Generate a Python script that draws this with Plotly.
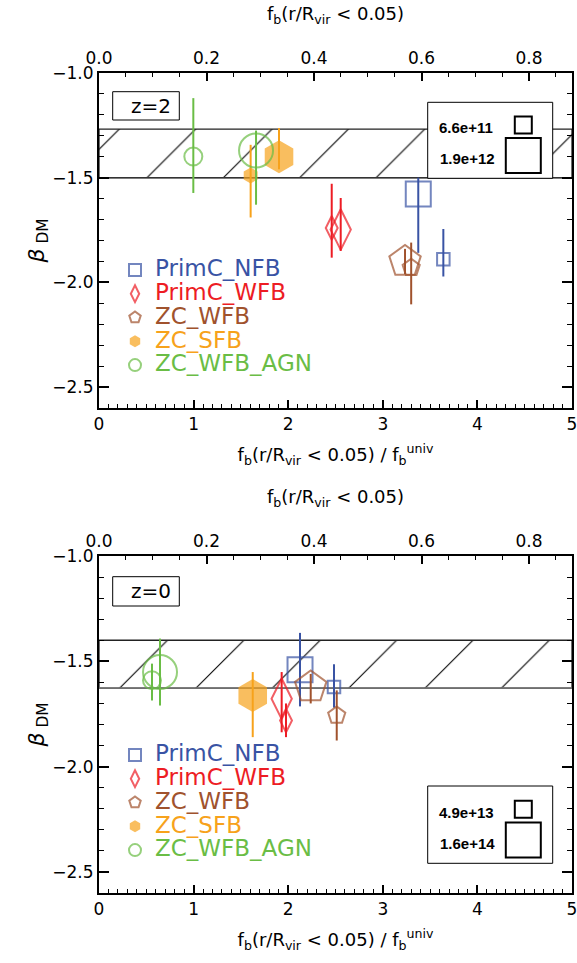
import plotly.graph_objects as go

# ---------------- data ----------------
# x = f_b(r/Rvir<0.05)/f_b^univ ; y = beta_DM ; hi/lo = error-bar ends
# index 0 = low-mass halo, index 1 = high-mass halo
SERIES = ["PrimC_NFB", "PrimC_WFB", "ZC_WFB", "ZC_SFB", "ZC_WFB_AGN"]

# z = 2
Z2_NFB_X = [3.64, 3.375];  Z2_NFB_Y = [-1.89, -1.578];  Z2_NFB_HI = [-1.745, -1.50];  Z2_NFB_LO = [-1.972, -1.859]
Z2_PWFB_X = [2.46, 2.555]; Z2_PWFB_Y = [-1.74, -1.748]; Z2_PWFB_HI = [-1.529, -1.597]; Z2_PWFB_LO = [-1.882, -1.85]
Z2_ZWFB_X = [3.30, 3.235]; Z2_ZWFB_Y = [-1.93, -1.90];  Z2_ZWFB_HI = [-1.81, -1.84];   Z2_ZWFB_LO = [-2.105, -1.96]
Z2_SFB_X = [1.603, 1.903]; Z2_SFB_Y = [-1.489, -1.40];  Z2_SFB_HI = [-1.343, -1.263];  Z2_SFB_LO = [-1.69, -1.46]
Z2_AGN_X = [0.997, 1.66];  Z2_AGN_Y = [-1.399, -1.37];  Z2_AGN_HI = [-1.12, -1.275];   Z2_AGN_LO = [-1.573, -1.629]
Z2_MASS = [0, 1]
Z2_SFB_MASS = [0, 1]
Z2_BAND = [-1.50, -1.268]
Z2_MASS_LABELS = ["6.6e+11", "1.9e+12"]

# z = 0
Z0_NFB_X = [2.484, 2.125]; Z0_NFB_Y = [-1.622, -1.54];  Z0_NFB_HI = [-1.514, -1.365]; Z0_NFB_LO = [-1.72, -1.714]
Z0_PWFB_X = [1.977, 1.931]; Z0_PWFB_Y = [-1.781, -1.678]; Z0_PWFB_HI = [-1.70, -1.551]; Z0_PWFB_LO = [-1.86, -1.837]
Z0_ZWFB_X = [2.513, 2.238]; Z0_ZWFB_Y = [-1.757, -1.622]; Z0_ZWFB_HI = [-1.638, -1.56]; Z0_ZWFB_LO = [-1.876, -1.70]
Z0_SFB_X = [1.625];        Z0_SFB_Y = [-1.662];          Z0_SFB_HI = [-1.551];         Z0_SFB_LO = [-1.86]
Z0_AGN_X = [0.56, 0.645];  Z0_AGN_Y = [-1.59, -1.551];   Z0_AGN_HI = [-1.511, -1.392]; Z0_AGN_LO = [-1.686, -1.71]
Z0_MASS = [0, 1]
Z0_SFB_MASS = [1]
Z0_BAND = [-1.627, -1.40]
Z0_MASS_LABELS = ["4.9e+13", "1.6e+14"]

FB_RANGE = [0, 0.88]          # top axis: f_b itself
X_RANGE = [0, 5]
Y_RANGE = [-2.6, -1.0]

# ---------------- style ----------------
W, H = 577, 963
ML, MR, MT, MB = 99, 5, 73, 70
PW, PH = W - ML - MR, H - MT - MB

COLORS = {"PrimC_NFB": "#3953A4", "PrimC_WFB": "#ED1C24", "ZC_WFB": "#A0522D",
          "ZC_SFB": "#F7A21B", "ZC_WFB_AGN": "#6ABD45"}
SYMBOLS = {"PrimC_NFB": "square", "PrimC_WFB": "diamond-tall", "ZC_WFB": "pentagon",
           "ZC_SFB": "hexagon", "ZC_WFB_AGN": "circle"}
SIZES = {"PrimC_NFB": (12.5, 25), "PrimC_WFB": (17, 29), "ZC_WFB": (18, 33),
         "ZC_SFB": (16, 33), "ZC_WFB_AGN": (18, 34)}
FONT = "DejaVu Sans"


def px(x):
    return (x - ML) / PW


def py(y):
    return (H - MB - y) / PH


TOP_DOM = [py(408), 1.0]
BOT_DOM = [0.0, py(556)]

fig = go.Figure()

panels = [
    dict(xa="x", xa2="x2", ya="y", legend="legend", band=Z2_BAND,
         data={"PrimC_NFB": (Z2_NFB_X, Z2_NFB_Y, Z2_NFB_HI, Z2_NFB_LO, Z2_MASS),
               "PrimC_WFB": (Z2_PWFB_X, Z2_PWFB_Y, Z2_PWFB_HI, Z2_PWFB_LO, Z2_MASS),
               "ZC_WFB": (Z2_ZWFB_X, Z2_ZWFB_Y, Z2_ZWFB_HI, Z2_ZWFB_LO, Z2_MASS),
               "ZC_SFB": (Z2_SFB_X, Z2_SFB_Y, Z2_SFB_HI, Z2_SFB_LO, Z2_SFB_MASS),
               "ZC_WFB_AGN": (Z2_AGN_X, Z2_AGN_Y, Z2_AGN_HI, Z2_AGN_LO, Z2_MASS)},
         band_low_color="#333333"),
    dict(xa="x3", xa2="x4", ya="y2", legend="legend2", band=Z0_BAND,
         data={"PrimC_NFB": (Z0_NFB_X, Z0_NFB_Y, Z0_NFB_HI, Z0_NFB_LO, Z0_MASS),
               "PrimC_WFB": (Z0_PWFB_X, Z0_PWFB_Y, Z0_PWFB_HI, Z0_PWFB_LO, Z0_MASS),
               "ZC_WFB": (Z0_ZWFB_X, Z0_ZWFB_Y, Z0_ZWFB_HI, Z0_ZWFB_LO, Z0_MASS),
               "ZC_SFB": (Z0_SFB_X, Z0_SFB_Y, Z0_SFB_HI, Z0_SFB_LO, Z0_SFB_MASS),
               "ZC_WFB_AGN": (Z0_AGN_X, Z0_AGN_Y, Z0_AGN_HI, Z0_AGN_LO, Z0_MASS)},
         band_low_color="#777777"),
]

for p in panels:
    lo, hi = p["band"]
    # invisible trace so the top (f_b) axis is drawn
    fig.add_trace(go.Scatter(x=FB_RANGE, y=[None, None], mode="markers",
                             xaxis=p["xa2"], yaxis=p["ya"], showlegend=False, hoverinfo="skip"))
    # hatched band
    fig.add_trace(go.Scatter(
        x=[X_RANGE[0], X_RANGE[1], X_RANGE[1], X_RANGE[0], X_RANGE[0]],
        y=[lo, lo, hi, hi, lo], mode="lines", fill="toself",
        fillcolor="rgba(0,0,0,0)",
        fillpattern=dict(shape="/", size=54, solidity=0.02, fgcolor="black",
                         fgopacity=1, fillmode="overlay"),
        line=dict(color="#222222", width=1.3),
        xaxis=p["xa"], yaxis=p["ya"], showlegend=False, hoverinfo="skip"))
    fig.add_trace(go.Scatter(
        x=X_RANGE, y=[lo, lo], mode="lines", line=dict(color=p["band_low_color"], width=1.5),
        xaxis=p["xa"], yaxis=p["ya"], showlegend=False, hoverinfo="skip"))
    for name in SERIES:
        xs, ys, his, los, mass = p["data"][name]
        col = COLORS[name]
        filled = name == "ZC_SFB"
        fig.add_trace(go.Scatter(
            x=xs, y=ys, mode="markers",
            name='<span style="font-size:23px;color:%s">%s</span>' % (col, name),
            legend=p["legend"],
            marker=dict(symbol=SYMBOLS[name], size=[SIZES[name][m] for m in mass],
                        color=col if filled else "rgba(0,0,0,0)",
                        line=dict(color=col, width=0 if filled else 2)),
            error_y=dict(type="data", symmetric=False,
                         array=[h - y for h, y in zip(his, ys)],
                         arrayminus=[y - l for l, y in zip(los, ys)],
                         color=col, thickness=2, width=0),
            xaxis=p["xa"], yaxis=p["ya"], hoverinfo="skip"))

tickfont = dict(family=FONT, size=17, color="black")
titlefont = dict(family=FONT, size=18, color="black")
XTITLE = "f<sub>b</sub>(r/R<sub>vir</sub> &lt; 0.05) / f<sub>b</sub><sup>univ</sup>"
XTITLE2 = "f<sub>b</sub>(r/R<sub>vir</sub> &lt; 0.05)"
YTITLE = "<i>β</i><sub> DM</sub>"


def xbottom(anchor):
    return dict(range=X_RANGE, dtick=1, tick0=0, ticks="inside", ticklen=8, tickwidth=1.5,
                minor=dict(dtick=0.1, ticks="inside", ticklen=4, tickwidth=1.2, tickcolor="black"),
                showline=True, linewidth=2, linecolor="black", mirror=False, tickcolor="black",
                showgrid=False, zeroline=False, anchor=anchor, tickfont=tickfont,
                ticklabeloverflow="allow",
                automargin=False, title=dict(text=XTITLE, font=titlefont, standoff=15))


def xtop(overlay, anchor):
    return dict(range=FB_RANGE, dtick=0.2, tick0=0, tickformat=".1f", side="top",
                overlaying=overlay, anchor=anchor, ticks="inside", ticklen=8, tickwidth=1.5,
                minor=dict(dtick=0.05, ticks="inside", ticklen=4, tickwidth=1.2, tickcolor="black"),
                showline=True, linewidth=2, linecolor="black", tickcolor="black",
                showgrid=False, zeroline=False, tickfont=tickfont, automargin=False,
                ticklabeloverflow="allow",
                title=dict(text=XTITLE2, font=titlefont, standoff=23))


def yax(domain, anchor):
    return dict(domain=domain, range=Y_RANGE, dtick=0.5, tick0=-1.0, tickformat=".1f",
                ticks="inside", ticklen=10, tickwidth=1.5, tickcolor="black",
                minor=dict(dtick=0.1, ticks="inside", ticklen=5, tickwidth=1.2, tickcolor="black"),
                showline=True, linewidth=2, linecolor="black", mirror="ticks",
                showgrid=False, zeroline=False, anchor=anchor, tickfont=tickfont, automargin=False,
                title=dict(text=YTITLE, font=dict(family=FONT, size=22, color="black"), standoff=2))


shapes, annos = [], []


def box(x0, y0, x1, y1, fill="rgba(0,0,0,0)", lw=1):
    shapes.append(dict(type="rect", xref="paper", yref="paper", x0=px(x0), x1=px(x1),
                       y0=py(y1), y1=py(y0), line=dict(color="black", width=lw),
                       fillcolor=fill, layer="above"))


def text(x, y, s, size, bold=False, fam=FONT):
    annos.append(dict(xref="paper", yref="paper", x=px(x), y=py(y), text="<b>%s</b>" % s if bold else s,
                      showarrow=False, xanchor="center", yanchor="middle",
                      font=dict(family=fam, size=size, color="black")))


for (ztxt, zy0, zy1, by0, by1, labels, sq_small_y, sq_big_y) in [
        ("z=2", 91.7, 120, 102.3, 178.3, Z2_MASS_LABELS, 125.0, 155.5),
        ("z=0", 576.7, 606, 786, 863.3, Z0_MASS_LABELS, 809.2, 840.0)]:
    box(112.7, zy0, 179.3, zy1)
    text(151, (zy0 + zy1) / 2, ztxt, 20)
    box(427.7, by0, 552.7, by1, fill="white")
    text(466, sq_small_y + 3, labels[0], 15, bold=True, fam="Liberation Sans")
    text(467, sq_big_y + 3, labels[1], 15, bold=True, fam="Liberation Sans")
    box(523.3 - 8.5, sq_small_y - 8.5, 523.3 + 8.5, sq_small_y + 8.5, lw=2)
    box(523.3 - 17.5, sq_big_y - 17.5, 523.3 + 17.5, sq_big_y + 17.5, lw=2)

legend_common = dict(font=dict(family=FONT, size=16, color="black"), bgcolor="rgba(0,0,0,0)",
                     itemsizing="constant", tracegroupgap=0, xanchor="left", yanchor="top",
                     borderwidth=0, itemclick=False, itemdoubleclick=False)

fig.update_layout(
    width=W, height=H, margin=dict(l=ML, r=MR, t=MT, b=MB, autoexpand=False),
    paper_bgcolor="white", plot_bgcolor="white", showlegend=True,
    xaxis=xbottom("y"), xaxis2=xtop("x", "y"),
    xaxis3=xbottom("y2"), xaxis4=xtop("x3", "y2"),
    yaxis=yax(TOP_DOM, "x"), yaxis2=yax(BOT_DOM, "x3"),
    legend=dict(x=px(115), y=py(253), **legend_common),
    legend2=dict(x=px(115), y=py(738), **legend_common),
    shapes=shapes, annotations=annos,
)

fig.write_html("out.html", config={"displayModeBar": False},
               post_script="document.body.style.margin='0px';")
